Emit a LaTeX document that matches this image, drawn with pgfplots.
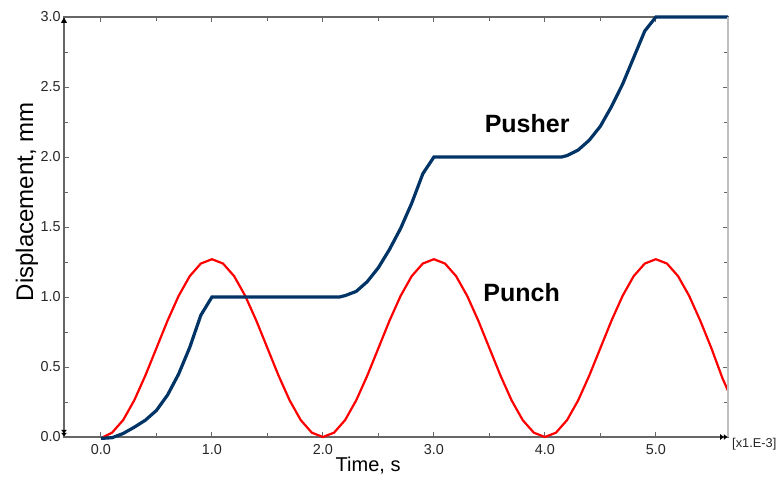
\documentclass[border=0pt]{standalone}
\usepackage{pgfplots}
\pgfplotsset{compat=1.18}
\usepackage{fontspec}
\setmainfont{Liberation Sans}
\definecolor{pushblue}{HTML}{003366}
\definecolor{axgray}{HTML}{666666}
\begin{document}
\begin{tikzpicture}
\begin{axis}[
  scale only axis,
  width=332pt, height=210pt,
  xmin=-0.333, xmax=5.65,
  ymin=0, ymax=3,
  xtick={0,1,2,3,4,5},
  ytick={0,0.5,1,1.5,2,2.5,3},
  minor x tick num=1,
  minor y tick num=1,
  tick align=inside,
  major tick length=2.5pt,
  minor tick length=2pt,
  tick style={axgray, line width=0.5pt},
  axis line style={axgray, line width=0.6pt},
  /pgf/number format/assume math mode=true,
  /pgf/number format/.cd, fixed, fixed zerofill, precision=1, /pgfplots/.cd,
  tick label style={font=\fontsize{7.2}{8}\selectfont, text=black!85},
  xticklabel style={yshift=-0.3pt},
  yticklabel style={xshift=1.8pt},
  clip=false,
]
\addplot[red, line width=1.1pt] coordinates {
(0.02,0) (0.1,0.031) (0.2,0.121) (0.3,0.262) (0.4,0.439) (0.5,0.635) (0.6,0.831) (0.7,1.008) (0.8,1.149) (0.9,1.239) (1.0,1.27)
(1.1,1.239) (1.2,1.149) (1.3,1.008) (1.4,0.831) (1.5,0.635) (1.6,0.439) (1.7,0.262) (1.8,0.121) (1.9,0.031) (2.0,0)
(2.1,0.031) (2.2,0.121) (2.3,0.262) (2.4,0.439) (2.5,0.635) (2.6,0.831) (2.7,1.008) (2.8,1.149) (2.9,1.239) (3.0,1.27)
(3.1,1.239) (3.2,1.149) (3.3,1.008) (3.4,0.831) (3.5,0.635) (3.6,0.439) (3.7,0.262) (3.8,0.121) (3.9,0.031) (4.0,0)
(4.1,0.031) (4.2,0.121) (4.3,0.262) (4.4,0.439) (4.5,0.635) (4.6,0.831) (4.7,1.008) (4.8,1.149) (4.9,1.239) (5.0,1.27)
(5.1,1.239) (5.2,1.149) (5.3,1.008) (5.4,0.831) (5.5,0.635) (5.6,0.42) (5.65,0.33)
};
\addplot[pushblue, line width=1.6pt] coordinates {
(0,-0.01) (0.1,-0.005) (0.2,0.025) (0.3,0.07) (0.4,0.12) (0.5,0.19) (0.6,0.3) (0.7,0.45) (0.8,0.64) (0.9,0.87) (1.0,1.0)
(2.15,1.0) (2.2,1.01) (2.3,1.04) (2.4,1.11) (2.5,1.21) (2.6,1.34) (2.7,1.49) (2.8,1.67) (2.9,1.88) (3.0,2.0)
(4.15,2.0) (4.2,2.01) (4.3,2.05) (4.4,2.12) (4.5,2.22) (4.6,2.36) (4.7,2.52) (4.8,2.71) (4.9,2.9) (5.0,3.0)
(5.65,3.0)
};
\draw[black!25, line width=0.8pt] (rel axis cs:1,0) -- (rel axis cs:1,1);
\node[font=\bfseries\fontsize{12.5}{14}\selectfont] at (axis cs:3.84,2.24) {Pusher};
\node[font=\bfseries\fontsize{12.5}{14}\selectfont] at (axis cs:3.79,1.03) {Punch};
\node[rotate=90, font=\fontsize{12}{14}\selectfont] at (rel axis cs:-0.0557,0.56) {Displacement, mm};
\node[font=\fontsize{10}{12}\selectfont] at (rel axis cs:0.458,-0.069) {Time, s};
\node[anchor=west, inner sep=0.4pt, font=\fontsize{6.4}{7}\selectfont, text=black!85] at ([xshift=1.5pt,yshift=-3.5pt]rel axis cs:1,0) {[x1.E-3]};
\coordinate (ll) at (rel axis cs:0,0);
\coordinate (ul) at (rel axis cs:0,1);
\coordinate (lr) at (rel axis cs:1,0);
\coordinate (ur) at (rel axis cs:1,1);
\end{axis}
% axis-end markers
\fill[black] ([yshift=-0.3pt]ul) -- ++(-1.5pt,-2.6pt) -- ++(3pt,0) -- cycle;
\fill[black] ([yshift=0.3pt]ll) -- ++(-1.4pt,1.8pt) -- ++(2.8pt,0) -- cycle;
\fill[black] ([yshift=1.8pt]ll) -- ++(-1.4pt,1.8pt) -- ++(2.8pt,0) -- cycle;
\fill[black] ([xshift=-0.3pt]lr) -- ++(-1.8pt,1.4pt) -- ++(0,-2.8pt) -- cycle;
\fill[black] ([xshift=-2.1pt]lr) -- ++(-1.8pt,1.4pt) -- ++(0,-2.8pt) -- cycle;
\pgfresetboundingbox
\path ([shift={(-32pt,-26pt)}]ll) rectangle ([shift={(25.5pt,8.5pt)}]ur);
\end{tikzpicture}
\end{document}
